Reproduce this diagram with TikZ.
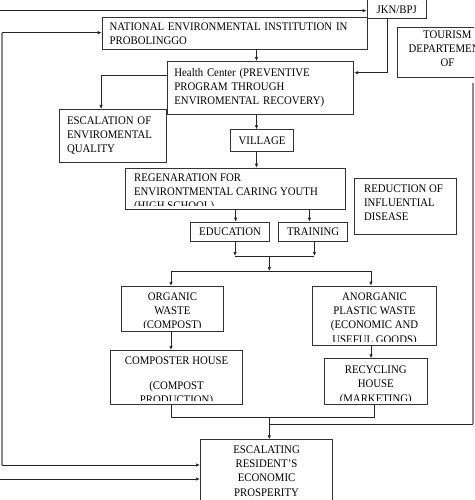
\documentclass[tikz,border=0pt]{standalone}
\usepackage{fontspec}
\setmainfont{Liberation Serif}[FakeStretch=0.93]
\usetikzlibrary{arrows.meta}

\begin{document}
\begin{tikzpicture}[x=1pt,y=-1pt,
  font=\fontsize{11.6}{14.2}\selectfont,
  box/.style={draw=black!80, line width=0.8pt, inner sep=0pt, anchor=north west},
  txt/.style={inner sep=0pt, minimum width=0pt, minimum height=0pt, draw=none},
  cutc/.style 2 args={path picture={
    \clip ([yshift=4pt]path picture bounding box.south west) rectangle (path picture bounding box.north east);
    \node[txt, anchor=north, align=center] at ([yshift=-#1]path picture bounding box.north) {#2};}},
  cutl/.style n args={3}{path picture={
    \clip ([yshift=4pt]path picture bounding box.south west) rectangle (path picture bounding box.north east);
    \node[txt, anchor=north west, align=left] at ([xshift=#1,yshift=-#2]path picture bounding box.north west) {#3};}},
  line/.style={black!85, line width=0.7pt},
  arr/.style={line, -{Latex[length=4pt,width=3.4pt]}},
  rail/.style={black!45, line width=2pt}]
  \useasboundingbox (0,0) rectangle (474,500);
  \clip (0,0) rectangle (474,500);

  % boxes, top to bottom
  \node[box, minimum width=59.3pt, minimum height=20.7pt, cutc={8.3pt}{JKN/BPJ}] (jkn) at (366.7,-3) {};
  \node[box, minimum width=265pt, minimum height=31.7pt, align=left, inner xsep=7.5pt, text width=250pt] (nat) at (101.7,17.3) {NATIONAL ENVIRONMENTAL INSTITUTION IN\\PROBOLINGGO};
  \node[box, minimum width=99.4pt, minimum height=50pt, cutc={3pt}{TOURISM\\DEPARTEMENT\\OF}] (tour) at (397.3,26.7) {};
  \node[box, minimum width=186.6pt, minimum height=53pt, align=left, inner xsep=7.3pt, text width=172pt] (health) at (166.7,61) {Health Center (PREVENTIVE\\PROGRAM THROUGH\\ENVIROMENTAL RECOVERY)};
  \node[box, minimum width=107.3pt, minimum height=52.7pt, align=left, inner xsep=8pt, text width=91.3pt] (escq) at (58.7,109) {ESCALATION OF\\ENVIROMENTAL\\QUALITY};
  \node[box, minimum width=63.3pt, minimum height=21.7pt] (village) at (230,129.3) {VILLAGE};
  \node[box, minimum width=220.3pt, minimum height=41.6pt, cutl={8.3pt}{5.3pt}{REGENARATION FOR\\ENVIRONTMENTAL CARING YOUTH\\(HIGH SCHOOL)}] (regen) at (125,167.7) {};
  \node[box, minimum width=101.7pt, minimum height=56pt, cutl={9pt}{5.4pt}{REDUCTION OF\\INFLUENTIAL\\DISEASE}] (reduce) at (354.3,178.3) {};
  \node[box, minimum width=79.3pt, minimum height=19.3pt] (edu) at (190,221.7) {EDUCATION};
  \node[box, minimum width=69pt, minimum height=19.3pt] (train) at (278.3,221.7) {TRAINING};
  \node[box, minimum width=102.6pt, minimum height=44.7pt, cutc={6pt}{ORGANIC\\WASTE\\(COMPOST)}] (org) at (120.7,286) {};
  \node[box, minimum width=123.7pt, minimum height=59.3pt, cutc={6.3pt}{ANORGANIC\\PLASTIC WASTE\\(ECONOMIC AND\\USEFUL GOODS)}] (anorg) at (312.3,285.7) {};
  \node[box, minimum width=132.3pt, minimum height=54pt, cutc={5.6pt}{COMPOSTER HOUSE\\[11pt](COMPOST\\PRODUCTION)}] (comp) at (110,350) {};
  \node[box, minimum width=102.7pt, minimum height=45.7pt, cutc={7pt}{RECYCLING\\HOUSE\\(MARKETING)}] (rec) at (324,358.3) {};
  \node[box, minimum width=132.3pt, minimum height=75pt, cutc={5.7pt}{ESCALATING\\RESIDENT’S\\ECONOMIC\\PROSPERITY}] (prosper) at (200,439.3) {};

  % junction points
  \coordinate (spine) at (256.5,0);
  \coordinate (topin) at (0,10.7);
  \coordinate (botin) at (0,479);
  \coordinate (railtop) at (2.3,32.7);
  \coordinate (railbot) at (2.3,465);
  \coordinate (join1) at (269.3,256);
  \coordinate (split) at (269.3,271);
  \coordinate (lb) at (171,0);
  \coordinate (rb) at (371,0);
  \coordinate (rb2) at (374.3,0);
  \coordinate (join2) at (269.3,417.7);
  \coordinate (tourtop) at (472.7,83);
  \coordinate (tourbot) at (472.7,424.3);

  % connectors
  \draw[arr] (topin) -- (topin -| jkn.west);
  \draw[rail] (railtop) -- (railbot);
  \draw[arr] (railtop) -- (railtop -| nat.west);
  \draw[arr] (railbot) -- (railbot -| prosper.west);
  \draw[arr] (botin) -- (botin -| prosper.west);
  \draw[arr] ([xshift=-9.6pt]jkn.south) |- ([yshift=-11.7pt]health.north east);
  \draw[arr] (spine |- nat.south) -- (spine |- health.north);
  \draw[arr] ([yshift=-14pt]health.north west) -| ([xshift=-11.7pt]escq.north);
  \draw[arr] (spine |- health.south) -- (spine |- village.north);
  \draw[arr] (spine |- village.south) -- (spine |- regen.north);
  \draw[arr] ([xshift=5.6pt]edu.north |- regen.south) -- ([xshift=5.6pt]edu.north);
  \draw[arr] ([xshift=-3.8pt]train.north |- regen.south) -- ([xshift=-3.8pt]train.north);
  \draw[arr] ([xshift=5pt]edu.south) -- ([xshift=5pt]edu.south |- join1);
  \draw[arr] ([xshift=1.2pt]train.south) -- ([xshift=1.2pt]train.south |- join1);
  \draw[line] ([xshift=5pt]edu.south |- join1) -- ([xshift=1.2pt]train.south |- join1);
  \draw[arr] (join1) -- (split);
  \draw[line] (lb |- split) -- (rb |- split);
  \draw[arr] (lb |- split) -- (lb |- org.north);
  \draw[arr] (rb |- split) -- (rb |- anorg.north);
  \draw[arr] (lb |- org.south) -- (lb |- comp.north);
  \draw[arr] (rb |- anorg.south) -- (rb |- rec.north);
  \draw[line] (lb |- comp.south) |- (join2) -| (rb2 |- rec.south);
  \draw[arr] (join2) -- (join2 |- prosper.north);
  \draw[rail] (tourtop) -- (tourbot);
  \draw[line] (tourbot) -- (join2 |- tourbot);
\end{tikzpicture}
\end{document}
